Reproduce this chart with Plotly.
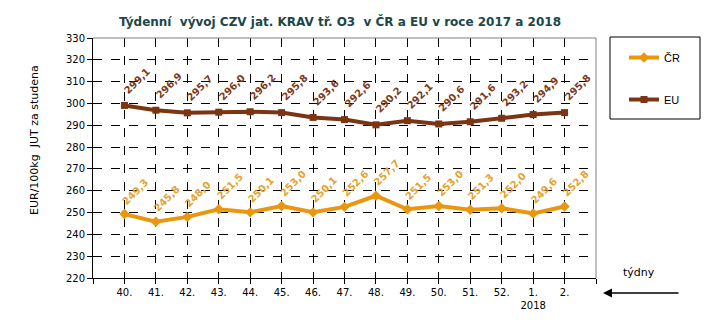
import plotly.graph_objects as go

weeks = ["40.", "41.", "42.", "43.", "44.", "45.", "46.", "47.", "48.", "49.", "50.", "51.", "52.", "1.<br>2018", "2."]
cr = [249.3, 245.8, 248.0, 251.5, 250.1, 253.0, 250.1, 252.6, 257.7, 251.5, 253.0, 251.3, 252.0, 249.6, 252.8]
eu = [299.1, 296.9, 295.7, 296.0, 296.2, 295.8, 293.6, 292.6, 290.2, 292.1, 290.6, 291.6, 293.2, 294.9, 295.8]
y_ticks = list(range(220, 331, 10))

CR_COLOR = "#E8970F"
CR_LABEL = "#E4A22E"
EU_COLOR = "#7B3512"
EU_LABEL = "#7E3A1C"
FONT = "DejaVu Sans"

x = list(range(len(weeks)))

def fmt(v):
    return f"{v:.1f}".replace(".", ",")

fig = go.Figure()
fig.add_trace(go.Scatter(x=x, y=cr, mode="lines+markers", name="ČR",
                         line=dict(color=CR_COLOR, width=4),
                         marker=dict(symbol="diamond", size=8, color=CR_COLOR),
                         legendgroup="a"))
fig.add_trace(go.Scatter(x=x, y=eu, mode="lines+markers", name="EU",
                         line=dict(color=EU_COLOR, width=4),
                         marker=dict(symbol="square", size=7, color=EU_COLOR),
                         legendgroup="b"))

annotations = []
for xi, v in zip(x, cr):
    annotations.append(dict(x=xi, y=v, xref="x", yref="y", text=fmt(v), showarrow=False,
                            textangle=-45, xshift=11, yshift=23,
                            font=dict(family=FONT, size=10, color=CR_LABEL, weight="bold")))
for xi, v in zip(x, eu):
    annotations.append(dict(x=xi, y=v, xref="x", yref="y", text=fmt(v), showarrow=False,
                            textangle=-45, xshift=13, yshift=25,
                            font=dict(family=FONT, size=10, color=EU_LABEL, weight="bold")))

# axis title (rotated)
annotations.append(dict(x=(34 - 93) / 503, y=(278 - 140) / 240, xref="paper", yref="paper",
                        xanchor="center", yanchor="middle",
                        text="EUR/100kg  JUT za studena", showarrow=False, textangle=-90,
                        font=dict(family=FONT, size=11, color="#000000")))
# týdny
annotations.append(dict(x=(639 - 93) / 503, y=(278 - 272.7) / 240, xref="paper", yref="paper",
                        xanchor="center", yanchor="middle",
                        text="týdny", showarrow=False,
                        font=dict(family=FONT, size=11, color="#000000")))
# arrow
annotations.append(dict(x=(603 - 93) / 503, y=(278 - 293) / 240, xref="paper", yref="paper",
                        ax=77, ay=0, axref="pixel", ayref="pixel",
                        text="", showarrow=True, arrowhead=2, arrowsize=1.2, arrowwidth=1.5,
                        arrowcolor="#000000"))

shapes = [
    dict(type="line", xref="paper", yref="paper", x0=0, x1=1, y0=1, y1=1,
         line=dict(color="#808080", width=1)),
    dict(type="line", xref="paper", yref="paper", x0=1, x1=1, y0=0, y1=1,
         line=dict(color="#808080", width=1)),
    dict(type="rect", xref="paper", yref="paper",
         x0=(610 - 93) / 503, x1=(700 - 93) / 503,
         y0=(278 - 119) / 240, y1=(278 - 37) / 240,
         line=dict(color="#000000", width=1), fillcolor="rgba(0,0,0,0)"),
]

fig.update_layout(
    width=713, height=324,
    margin=dict(l=93, r=117, t=38, b=46),
    paper_bgcolor="white", plot_bgcolor="white",
    title=dict(text="Týdenní  vývoj CZV jat. KRAV tř. O3  v ČR a EU v roce 2017 a 2018",
               x=340 / 713, xanchor="center", y=1 - 21.7 / 324, yanchor="middle",
               font=dict(family=FONT, size=12, color="#1B4747", weight="bold")),
    showlegend=True,
    legend=dict(x=(624 - 93) / 503, y=(278 - 43) / 240, xanchor="left", yanchor="top",
                bgcolor="rgba(0,0,0,0)", borderwidth=0,
                traceorder="grouped", tracegroupgap=23,
                font=dict(family="Liberation Sans", size=11, color="#000000")),
    annotations=annotations,
    shapes=shapes,
)

fig.update_xaxes(range=[-1, 15], tickmode="array",
                 tickvals=list(range(-1, 16)),
                 ticktext=[""] + weeks + [""],
                 showgrid=True, gridcolor="#000000", gridwidth=1, griddash="dash",
                 showline=True, linecolor="#000000", linewidth=1,
                 ticks="outside", ticklen=5, tickcolor="#000000",
                 tickfont=dict(family=FONT, size=10, color="#000000"),
                 zeroline=False, fixedrange=True)
fig.update_yaxes(range=[220, 330], tickmode="array", tickvals=y_ticks,
                 ticktext=[str(v) for v in y_ticks],
                 showgrid=True, gridcolor="#000000", gridwidth=1, griddash="dash",
                 showline=True, linecolor="#000000", linewidth=1,
                 ticks="outside", ticklen=5, tickcolor="#000000",
                 tickfont=dict(family=FONT, size=10, color="#000000"),
                 zeroline=False, fixedrange=True)

fig.write_html("out.html")
